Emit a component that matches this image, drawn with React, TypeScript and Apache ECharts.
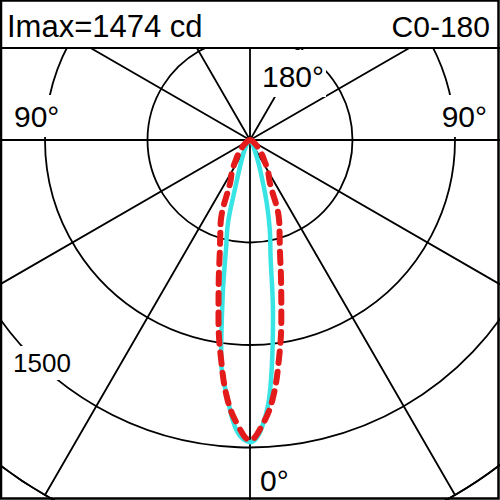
import React, { useEffect, useRef } from "react";
import * as echarts from "echarts";

// Photometric data: gamma angle (deg, 0 = straight down) and intensities (cd)
const GAMMA = [0, 2.5, 5, 7.5, 10, 12.5, 15, 17.5, 20, 25, 30, 35, 40, 45, 50, 60, 70, 80, 90];
const C0 = [1474, 1395, 1175, 860, 578, 445, 312, 192, 125, 52, 30, 19, 13, 9, 6, 3, 1, 0, 0];
const C180 = [1474, 1425, 1262, 1080, 765, 539, 410, 228, 150, 80, 45, 28, 18, 12, 8, 4, 2, 1, 0];
const C90 = [1464, 1390, 1268, 1080, 880, 700, 565, 480, 415, 228, 175, 122, 88, 60, 42, 20, 8, 3, 0];
const C270 = [1464, 1390, 1268, 1080, 885, 705, 570, 482, 415, 228, 175, 122, 88, 60, 42, 20, 8, 3, 0];

const IMAX = 1474;
const PLANE_LABEL = "C0-180";
const RING_STEP = 500;
const RING_MAX = 2000;
const RING_LABEL = 1500;
const ANGLE_STEP = 30;
const LABEL_BOTTOM = "0°";
const LABEL_TOP = "180°";
const LABEL_SIDE = "90°";

function buildPlane(right: number[], left: number[]): [number, number][] {
  const pts: [number, number][] = [];
  for (let i = GAMMA.length - 1; i >= 0; i--) pts.push([left[i], 360 - GAMMA[i]]);
  for (let i = 0; i < GAMMA.length; i++) pts.push([right[i], GAMMA[i]]);
  return pts;
}

const FONT = '"Liberation Sans", Arial, sans-serif';

export default function App() {
  const ref = useRef<HTMLDivElement>(null);
  useEffect(() => {
    document.body.style.margin = "0";
    if (!ref.current) return;
    const chart = echarts.init(ref.current, undefined, { renderer: "svg" });
    const gridLine = { color: "#000", width: 1.8 };
    const txt = (text: string, x: number, y: number, align: string, size = 30) => ({
      type: "text",
      x,
      y,
      z: 60,
      style: {
        text,
        font: `${size}px ${FONT}`,
        fill: "#000",
        align,
        textAlign: align,
        verticalAlign: "middle",
        textVerticalAlign: "middle",
      },
    });
    const white = (x: number, y: number, w: number, h: number) => ({
      type: "rect",
      z: 55,
      shape: { x, y, width: w, height: h },
      style: { fill: "#fff" },
    });
    chart.setOption({
      animation: false,
      backgroundColor: "#fff",
      polar: { center: [250, 140], radius: 410 },
      angleAxis: {
        type: "value",
        min: 0,
        max: 360,
        interval: ANGLE_STEP,
        startAngle: 270,
        clockwise: false,
        axisLine: { show: true, lineStyle: gridLine },
        axisTick: { show: false },
        axisLabel: { show: false },
        splitLine: { show: true, lineStyle: gridLine },
      },
      radiusAxis: {
        type: "value",
        min: 0,
        max: RING_MAX,
        interval: RING_STEP,
        axisLine: { show: false },
        axisTick: { show: false },
        axisLabel: { show: false },
        splitLine: { show: true, lineStyle: gridLine },
      },
      series: [
        {
          name: "C0-C180",
          type: "line",
          coordinateSystem: "polar",
          data: buildPlane(C0, C180),
          symbol: "none",
          smooth: 0.4,
          lineStyle: { color: "#38e4e4", width: 4.5 },
          z: 3,
        },
        {
          name: "C90-C270",
          type: "line",
          coordinateSystem: "polar",
          data: buildPlane(C90, C270),
          symbol: "none",
          smooth: 0.4,
          lineStyle: { color: "#e31b1b", width: 6, type: [11, 9], cap: "round" },
          z: 4,
        },
      ],
      graphic: {
        elements: [
          white(0, 0, 500, 48),
          white(8, 95, 58, 42),
          white(436, 95, 56, 42),
          white(256, 50, 70, 47),
          white(10, 346, 66, 34),
          {
            type: "line",
            z: 70,
            shape: { x1: 0, y1: 48, x2: 500, y2: 48 },
            style: { stroke: "#000", lineWidth: 2 },
          },
          {
            type: "rect",
            z: 70,
            shape: { x: 1, y: 0.5, width: 497.5, height: 498 },
            style: { fill: "none", stroke: "#000", lineWidth: 2.5 },
          },
          txt(`Imax=${IMAX} cd`, 7, 26, "left", 31),
          txt(PLANE_LABEL, 490, 26, "right"),
          txt(LABEL_SIDE, 14, 116, "left"),
          txt(LABEL_SIDE, 487, 116, "right"),
          txt(LABEL_TOP, 262, 76, "left"),
          txt(LABEL_BOTTOM, 260, 480, "left"),
          txt(String(RING_LABEL), 13, 363, "left", 26),
        ],
      },
    });
    return () => chart.dispose();
  }, []);
  return (
    <div
      ref={ref}
      style={{ position: "absolute", left: 0, top: 0, width: 500, height: 500 }}
    />
  );
}
